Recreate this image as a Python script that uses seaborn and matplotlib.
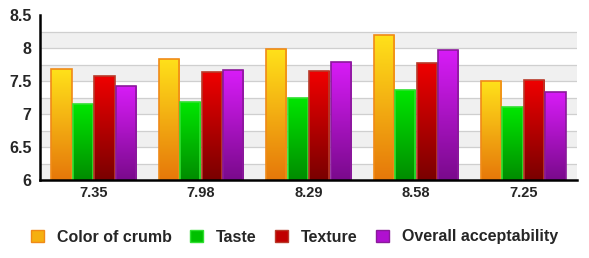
import numpy as np
import pandas as pd
import seaborn as sns
import matplotlib.pyplot as plt
from matplotlib.colors import LinearSegmentedColormap
from matplotlib.patches import Patch

groups = ["7.35", "7.98", "8.29", "8.58", "7.25"]
series = ["Color of crumb", "Taste", "Texture", "Overall acceptability"]
color_of_crumb = [7.68, 7.84, 7.98, 8.19, 7.50]
taste = [7.15, 7.18, 7.25, 7.36, 7.10]
texture = [7.58, 7.64, 7.65, 7.78, 7.52]
overall = [7.43, 7.66, 7.79, 7.97, 7.34]

top_colors = ["#ffe11a", "#00e600", "#f00000", "#d81cf8"]
bot_colors = ["#e6780a", "#008c00", "#7a0000", "#7a0a8c"]
edge_colors = ["#f08a18", "#30e030", "#b83a2a", "#8a1a9a"]
mid_colors = ["#f5b010", "#00c000", "#c00000", "#b010d0"]

vals = [color_of_crumb, taste, texture, overall]
df = pd.DataFrame({
    "group": groups * 4,
    "series": sum([[s] * len(groups) for s in series], []),
    "value": sum(vals, []),
})

sns.set_style("white")
plt.rcParams['font.family'] = ['Liberation Sans', 'DejaVu Sans']

fig = plt.figure(figsize=(5.89, 2.58), dpi=100)
ax = fig.add_axes([40/589, 1-180/258, (577-40)/589, (180-15)/258])

ax.set_ylim(6, 8.5)
# alternating bands
for i, lo in enumerate(np.arange(6, 8.5, 0.25)):
    if i % 2 == 0:
        ax.axhspan(lo, lo + 0.25, color="#f0f0f0", zorder=0, lw=0)
for y in np.arange(6.25, 8.5, 0.25):
    ax.axhline(y, color="#cfcfcf", lw=0.9, zorder=0.5)

sns.barplot(data=df, x="group", y="value", hue="series", order=groups,
            hue_order=series, palette=mid_colors, width=0.8, ax=ax,
            legend=False, saturation=1, zorder=2)

ax.set_xlim(-0.5, len(groups) - 0.5)

for k, cont in enumerate(ax.containers):
    for p in cont.patches:
        x0, y0 = p.get_x(), p.get_y()
        w, h = p.get_width(), p.get_height()
        x0 += 0.006
        w -= 0.012
        p.set_x(x0); p.set_width(w)
        p.set_facecolor("none")
        p.set_edgecolor(edge_colors[k])
        p.set_linewidth(1.2)
        p.set_zorder(4)
        cmap = LinearSegmentedColormap.from_list("g", [bot_colors[k], top_colors[k]])
        grad = np.linspace(0, 1, 128).reshape(-1, 1)
        im = ax.imshow(grad, aspect="auto", cmap=cmap, origin="lower",
                       extent=[x0, x0 + w, 6, y0 + h], zorder=3,
                       interpolation="bilinear")
        im.set_clip_path(p)

ax.set_aspect("auto")
ax.set_xlim(-0.5, len(groups) - 0.5)
ax.set_ylim(6, 8.5)

ax.set_xlabel("")
ax.set_ylabel("")
ax.set_yticks([6, 6.5, 7, 7.5, 8, 8.5])
ax.set_yticklabels(["6", "6.5", "7", "7.5", "8", "8.5"], fontweight="bold", fontsize=11.5)
ax.set_xticks(range(len(groups)))
ax.set_xticklabels(groups, fontweight="bold", fontsize=10.5)
ax.set_xticks(np.arange(-0.5, len(groups)), minor=True)
ax.tick_params(axis="x", which="major", length=0, pad=4)
ax.tick_params(axis="x", which="minor", length=4, width=1.5, color="black", direction="out")
ax.tick_params(axis="y", length=4, width=1.5, color="black", direction="out", pad=2)

for s in ["top", "right"]:
    ax.spines[s].set_visible(False)
for s in ["left", "bottom"]:
    ax.spines[s].set_linewidth(1.8)
    ax.spines[s].set_color("black")
    ax.spines[s].set_zorder(6)

handles = [Patch(facecolor=mid_colors[k], edgecolor=edge_colors[k], lw=1) for k in range(4)]
leg = fig.legend(handles, series, loc="center", bbox_to_anchor=(0.5, 1 - 237/258),
                 ncol=4, frameon=False, handlelength=0.82, handleheight=0.82,
                 handletextpad=0.8, columnspacing=1.15,
                 prop={"weight": "bold", "size": 11.5})
for t in leg.get_texts():
    t.set_va("baseline")

fig.savefig("out.png", dpi=100)
